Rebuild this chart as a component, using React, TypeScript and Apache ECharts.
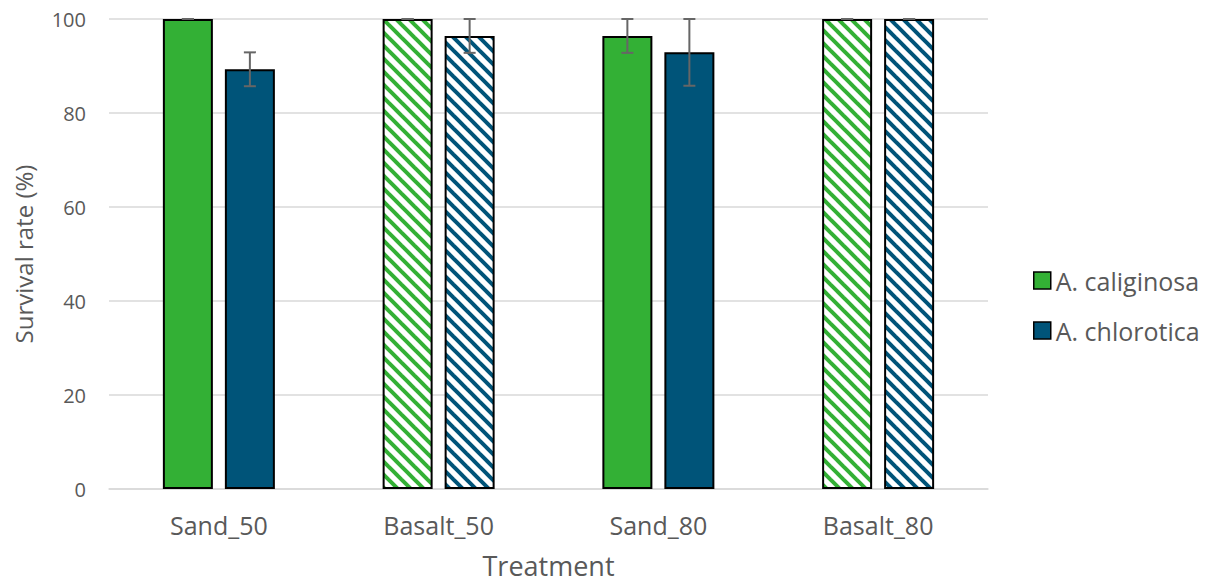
import React, { useEffect, useRef } from "react";
import * as echarts from "echarts";

const categories = ["Sand_50", "Basalt_50", "Sand_80", "Basalt_80"];
const caliginosa = [100, 100, 96.4, 100];
const chlorotica = [89.3, 96.4, 92.9, 100];
const caliginosaErr = [0, 0, 3.6, 0];
const chloroticaErr = [3.6, 3.6, 7.1, 0];
const hatched = [false, true, false, true];
const yTicks = { min: 0, max: 100, interval: 20 };

const GREEN = "#33B035";
const BLUE = "#005479";
const FONT = "Open Sans";
const GRAY_TEXT = "#595959";

function makeHatch(color: string): string {
  const s = 13;
  const c = document.createElement("canvas");
  c.width = s;
  c.height = s;
  const ctx = c.getContext("2d")!;
  ctx.fillStyle = "#ffffff";
  ctx.fillRect(0, 0, s, s);
  ctx.strokeStyle = color;
  ctx.lineWidth = 4;
  for (const k of [-s, 0, s]) {
    ctx.beginPath();
    ctx.moveTo(k - 2, -2);
    ctx.lineTo(k + s + 2, s + 2);
    ctx.stroke();
  }
  return c.toDataURL();
}

export default function App() {
  const ref = useRef<HTMLDivElement>(null);
  useEffect(() => {
    if (!ref.current) return;
    const chart = echarts.init(ref.current, null, { renderer: "svg" });
    const hatchGreen = makeHatch(GREEN);
    const hatchBlue = makeHatch(BLUE);

    const barData = (vals: number[], color: string, hatch: string) =>
      vals.map((v, i) => ({
        value: v,
        itemStyle: hatched[i]
          ? { color: { image: hatch, repeat: "repeat" } }
          : { color },
      }));

    const errData = (vals: number[], errs: number[]) =>
      vals.map((v, i) => [i, Math.max(0, v - errs[i]), Math.min(100, v + errs[i])]);

    const errSeries = (name: string, vals: number[], errs: number[], sign: number) => ({
      type: "custom",
      name: name + " err",
      data: errData(vals, errs),
      encode: { x: 0, y: [1, 2] },
      z: 5,
      silent: true,
      renderItem: (params: any, api: any) => {
        const x = api.value(0);
        const lo = api.value(1);
        const hi = api.value(2);
        const pHi = api.coord([x, hi]);
        const pLo = api.coord([x, lo]);
        const cx = pHi[0] + sign * 31;
        const style = { stroke: "#666666", lineWidth: 2 };
        return {
          type: "group",
          children: [
            { type: "line", shape: { x1: cx, y1: pHi[1], x2: cx, y2: pLo[1] }, style },
            { type: "line", shape: { x1: cx - 6, y1: pHi[1], x2: cx + 6, y2: pHi[1] }, style },
            { type: "line", shape: { x1: cx - 6, y1: pLo[1], x2: cx + 6, y2: pLo[1] }, style },
          ],
        };
      },
    });

    chart.setOption({
      animation: false,
      backgroundColor: "#ffffff",
      grid: { left: 109, right: 220, top: 19, bottom: 96, containLabel: false, outerBoundsMode: "none" },
      legend: {
        orient: "vertical",
        left: 1028,
        top: 263,
        itemWidth: 17,
        itemHeight: 17,
        itemGap: 25,
        data: [
          { name: "A. caliginosa", icon: "rect", itemStyle: { color: GREEN, borderColor: "#000", borderWidth: 1.5 } },
          { name: "A. chlorotica", icon: "rect", itemStyle: { color: BLUE, borderColor: "#000", borderWidth: 1.5 } },
        ],
        textStyle: { fontFamily: FONT, fontSize: 25, color: GRAY_TEXT, lineHeight: 25 },
      },
      xAxis: {
        type: "category",
        data: categories,
        name: "Treatment",
        nameLocation: "middle",
        nameGap: 63,
        nameTextStyle: { fontFamily: FONT, fontSize: 27, color: GRAY_TEXT, lineHeight: 27 },
        axisLine: { show: true, lineStyle: { color: "#d9d9d9", width: 1.5 } },
        axisTick: { show: false },
        axisLabel: { fontFamily: FONT, fontSize: 25, color: GRAY_TEXT, margin: 23 },
      },
      yAxis: {
        type: "value",
        min: yTicks.min,
        max: yTicks.max,
        interval: yTicks.interval,
        name: "Survival rate (%)",
        nameLocation: "middle",
        nameGap: 74,
        nameTextStyle: { fontFamily: FONT, fontSize: 24, color: GRAY_TEXT },
        axisLine: { show: false },
        axisTick: { show: false },
        axisLabel: { fontFamily: FONT, fontSize: 20, color: GRAY_TEXT, margin: 23 },
        splitLine: { lineStyle: { color: "#d9d9d9", width: 1.5 } },
      },
      series: [
        {
          type: "bar",
          name: "A. caliginosa",
          barWidth: 50,
          barGap: "24%",
          itemStyle: { color: GREEN, borderColor: "#000", borderWidth: 2 },
          data: barData(caliginosa, GREEN, hatchGreen),
        },
        {
          type: "bar",
          name: "A. chlorotica",
          barWidth: 50,
          barGap: "24%",
          itemStyle: { color: BLUE, borderColor: "#000", borderWidth: 2 },
          data: barData(chlorotica, BLUE, hatchBlue),
        },
        errSeries("A. caliginosa", caliginosa, caliginosaErr, -1),
        errSeries("A. chlorotica", chlorotica, chloroticaErr, 1),
      ],
    });
    return () => chart.dispose();
  }, []);
  return <div ref={ref} style={{ width: 1208, height: 585, position: "fixed", left: 0, top: 0 }} />;
}
